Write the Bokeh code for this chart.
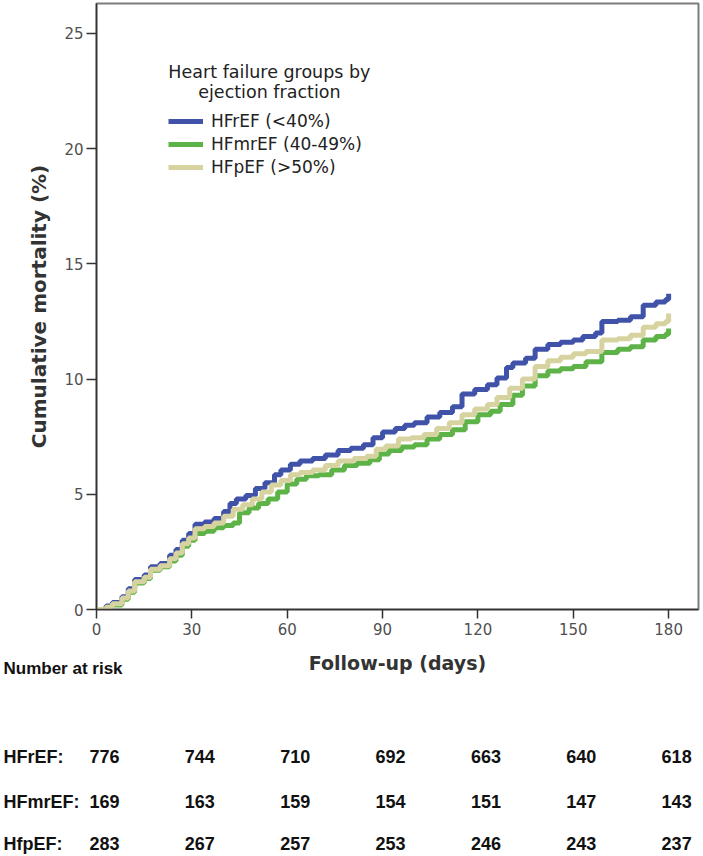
from bokeh.plotting import figure
from bokeh.layouts import column
from bokeh.models import Range1d, Legend, LegendItem, Label, ColumnDataSource, FixedTicker
from bokeh.core.properties import value
from bokeh.embed import file_html
from bokeh.resources import INLINE

# ---- data ----
hfref_days = [0, 3, 5, 8, 10, 12, 15, 17, 20, 23, 25, 27, 29, 31, 34, 37, 40, 42, 44, 47, 50, 53, 56, 58,
              61, 64, 68, 72, 76, 80, 84, 87, 90, 94, 97, 100, 104, 108, 112, 115, 119, 123, 126, 129,
              131, 135, 138, 142, 146, 150, 153, 157, 159, 164, 168, 172, 176, 179, 180]
hfref_cum = [0, 0.15, 0.3, 0.55, 0.9, 1.3, 1.5, 1.85, 2.0, 2.35, 2.6, 3.0, 3.3, 3.7, 3.8, 3.95, 4.25, 4.6,
             4.8, 4.95, 5.25, 5.5, 5.85, 6.05, 6.3, 6.45, 6.55, 6.7, 6.9, 7.0, 7.15, 7.45, 7.7, 7.85, 8.0,
             8.1, 8.35, 8.55, 8.8, 9.35, 9.55, 9.75, 10.05, 10.5, 10.7, 10.9, 11.3, 11.5, 11.6, 11.7,
             11.85, 12.0, 12.5, 12.55, 12.7, 13.2, 13.35, 13.45, 13.7]

hfmref_days = [0, 3, 5, 8, 10, 12, 15, 17, 20, 23, 25, 27, 29, 31, 34, 37, 40, 43, 45, 48, 51, 54, 57, 60,
               63, 66, 70, 74, 78, 82, 86, 89, 92, 96, 100, 104, 108, 112, 116, 120, 124, 127, 131, 134,
               138, 142, 146, 150, 154, 159, 164, 168, 172, 176, 179, 180]
hfmref_cum = [0, 0.1, 0.2, 0.45, 0.75, 1.15, 1.35, 1.7, 1.85, 2.1, 2.35, 2.75, 3.0, 3.3, 3.4, 3.55, 3.65,
              3.75, 4.2, 4.4, 4.6, 4.8, 5.1, 5.45, 5.65, 5.8, 5.85, 6.05, 6.25, 6.35, 6.5, 6.75, 6.9,
              7.05, 7.15, 7.4, 7.6, 7.8, 8.15, 8.45, 8.6, 8.9, 9.3, 9.7, 10.15, 10.35, 10.45, 10.55,
              10.75, 11.15, 11.3, 11.4, 11.7, 11.85, 11.95, 12.2]

hfpef_days = [0, 3, 5, 8, 10, 12, 15, 17, 20, 23, 25, 27, 29, 31, 34, 37, 40, 43, 46, 49, 52, 55, 58, 61,
              64, 68, 72, 76, 81, 85, 88, 91, 95, 99, 103, 107, 111, 115, 119, 123, 126, 130, 134, 138,
              142, 146, 150, 154, 159, 164, 168, 172, 176, 179, 180]
hfpef_cum = [0, 0.1, 0.25, 0.5, 0.8, 1.2, 1.4, 1.75, 1.9, 2.2, 2.45, 2.85, 3.1, 3.5, 3.6, 3.75, 4.05, 4.35,
             4.55, 4.8, 5.1, 5.4, 5.6, 5.85, 5.95, 6.05, 6.25, 6.45, 6.55, 6.65, 6.95, 7.1, 7.4, 7.45,
             7.6, 7.85, 8.1, 8.45, 8.7, 8.9, 9.2, 9.6, 10.0, 10.55, 10.8, 10.95, 11.1, 11.2, 11.7, 11.75,
             11.9, 12.25, 12.4, 12.5, 12.85]

series_labels = ["HFrEF (<40%)", "HFmrEF (40-49%)", "HFpEF (>50%)"]
legend_title = ["Heart failure groups by", "ejection fraction"]

x_ticks = [0, 30, 60, 90, 120, 150, 180]
y_ticks = [0, 5, 10, 15, 20, 25]

risk_days = [0, 30, 60, 90, 120, 150, 180]
risk_groups = ["HFrEF:", "HFmrEF:", "HfpEF:"]
risk_hfref = [776, 744, 710, 692, 663, 640, 618]
risk_hfmref = [169, 163, 159, 154, 151, 147, 143]
risk_hfpef = [283, 267, 257, 253, 246, 243, 237]

# ---- styles / layout ----
C_BLUE = "#4153A9"
C_GREEN = "#5DB347"
C_BEIGE = "#D7D3A1"
LW = 5
X_END = 189.4
PX_PER_DAY = 602 / X_END          # frame width / x span
LEFT_BORDER = 96

p = figure(width=703, height=645, output_backend="svg", toolbar_location=None,
           x_range=Range1d(0, X_END), y_range=Range1d(0, 26.3),
           min_border_left=LEFT_BORDER, min_border_right=5, min_border_top=3, min_border_bottom=36)
p.frame_align = False
p.background_fill_color = "white"
p.border_fill_color = "white"
p.xgrid.visible = False
p.ygrid.visible = False
p.outline_line_color = "#7d7d7d"
p.outline_line_width = 2

for ax in (p.xaxis[0], p.yaxis[0]):
    ax.axis_line_color = "#333333"
    ax.axis_line_width = 1.5
    ax.major_tick_line_color = "#333333"
    ax.major_tick_line_width = 1.5
    ax.minor_tick_line_color = None
    ax.major_tick_in = 0
    ax.major_label_text_font = "DejaVu Sans"
    ax.major_label_text_font_size = "15px"
    ax.major_label_text_color = "#505050"

p.xaxis.ticker = FixedTicker(ticks=x_ticks)
p.yaxis.ticker = FixedTicker(ticks=y_ticks)
p.xaxis.major_tick_out = 9
p.yaxis.major_tick_out = 10
p.xaxis.major_label_standoff = 4
p.yaxis.major_label_standoff = 3
p.yaxis.axis_label = "Cumulative mortality (%)"
p.yaxis.axis_label_text_font = "DejaVu Sans"
p.yaxis.axis_label_text_font_style = "bold"
p.yaxis.axis_label_text_font_size = "20px"
p.yaxis.axis_label_text_color = "#333333"
p.yaxis.axis_label_standoff = 10

r1 = p.step(hfref_days, hfref_cum, mode="after", line_width=LW, line_color=C_BLUE)
r2 = p.step(hfmref_days, hfmref_cum, mode="after", line_width=LW, line_color=C_GREEN)
r3 = p.step(hfpef_days, hfpef_cum, mode="after", line_width=LW, line_color=C_BEIGE)

legend = Legend(items=[LegendItem(label=series_labels[0], renderers=[r1]),
                       LegendItem(label=series_labels[1], renderers=[r2]),
                       LegendItem(label=series_labels[2], renderers=[r3])],
                location=(72, 431), orientation="vertical",
                glyph_width=35, glyph_height=22, label_height=22, label_standoff=8,
                spacing=1, padding=0, margin=0,
                label_text_font="DejaVu Sans", label_text_font_size="17px",
                label_text_color="#222222",
                border_line_color=None, background_fill_alpha=0)
p.add_layout(legend)

for i, t in enumerate(legend_title):
    p.add_layout(Label(x=54.4, y=23.31 - i * 0.83, text=t, text_align="center",
                       text_baseline="middle", text_font="DejaVu Sans",
                       text_font_size="17.5px", text_color="#222222"))

# ---- x-axis title + number-at-risk table (second panel, same day scale) ----
t_left = -LEFT_BORDER / PX_PER_DAY
t_right = t_left + 703 / PX_PER_DAY
tb = figure(width=703, height=211, output_backend="svg", toolbar_location=None,
            x_range=Range1d(t_left, t_right), y_range=Range1d(211, 0),
            x_axis_type=None, y_axis_type=None,
            min_border_left=0, min_border_right=0, min_border_top=0, min_border_bottom=0)
tb.frame_align = False
tb.outline_line_color = None
tb.grid.visible = False
tb.background_fill_color = "white"
tb.border_fill_color = "white"

tb.text(x=[X_END / 2], y=[17], text=["Follow-up (days)"], text_align="center",
        text_baseline="middle", text_font=value("DejaVu Sans"), text_font_style="bold",
        text_font_size="19px", text_color="#333333")

TABLE_FONT = value("Liberation Sans")
TABLE_SIZE = "18px"
label_x = t_left + 3 / PX_PER_DAY
tb.text(x=[label_x], y=[23], text=["Number at risk"], text_align="left", text_baseline="middle",
        text_font=TABLE_FONT, text_font_style="bold", text_font_size="17px", text_color="#111111")

row_y = [111, 156, 198]
for name, counts, yy in zip(risk_groups, [risk_hfref, risk_hfmref, risk_hfpef], row_y):
    tb.text(x=[label_x], y=[yy], text=[name], text_align="left", text_baseline="middle",
            text_font=TABLE_FONT, text_font_style="bold", text_font_size=TABLE_SIZE,
            text_color="#111111")
    src = ColumnDataSource(dict(x=risk_days, y=[yy] * len(risk_days), t=[str(c) for c in counts]))
    tb.text(x="x", y="y", text="t", source=src, x_offset=8, text_align="center",
            text_baseline="middle", text_font=TABLE_FONT, text_font_style="bold",
            text_font_size=TABLE_SIZE, text_color="#111111")

layout = column(p, tb, spacing=0)
open("out.html", "w").write(file_html(layout, INLINE))
